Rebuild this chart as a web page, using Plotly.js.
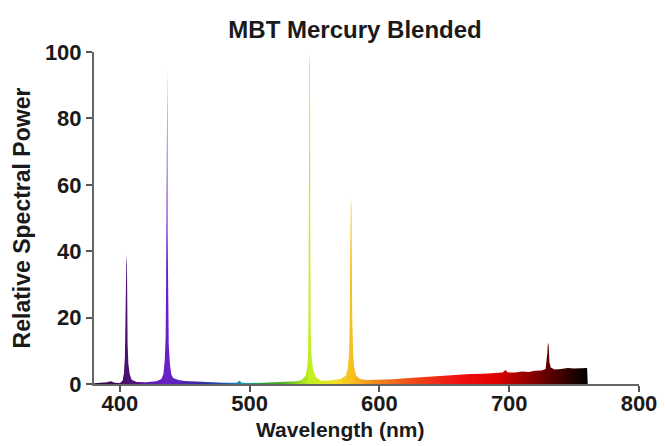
<!DOCTYPE html>
<html>
<head>
<meta charset="utf-8">
<script src="https://cdn.plot.ly/plotly-3.0.1.min.js"></script>
<style>html,body{margin:0;padding:0;background:#fff;}#chart{width:665px;height:446px;}</style>
</head>
<body>
<div id="chart"></div>
<script>
// Wavelength samples (nm)
const wavelength = [
  380, 385, 390, 393, 396, 400, 402, 403, 403.8, 404.2, 404.4, 404.6, 405, 405.4, 405.6, 405.9, 406.5, 407.5, 409, 413, 420,
  428, 432, 433.5, 434.5, 435.2, 435.5, 435.7, 436.1, 436.5, 436.7, 437, 437.6, 438.5, 439.5, 441, 445, 450, 460, 470, 480, 490, 492,
  494, 500, 510, 520, 530, 536, 540, 543, 544.3, 545, 545.3, 545.5, 546, 546.5, 546.7, 547, 547.7, 549, 551, 555, 560, 565,
  570, 574, 575.5, 576.5, 577.2, 577.4, 577.6, 578, 578.4, 578.6, 579, 579.7, 580.5, 582, 585, 590, 600, 610, 620, 630, 640, 650, 660,
  670, 680, 690, 695, 697, 699, 705, 710, 715, 720, 725, 728, 729.4, 729.8, 730.4, 731, 732, 735, 740, 745, 750,
  755, 760, 760.5
];
// Relative spectral power (%)
const power = [
  0.2, 0.3, 0.5, 0.8, 0.4, 0.3, 1.0, 3, 8, 18, 24, 36, 39, 36, 19, 12, 6, 3, 1.3, 0.6, 0.5,
  0.8, 1.5, 3, 7, 14, 27, 47, 93, 95, 47, 27, 12, 6, 3, 1.8, 1.2, 0.9, 0.7, 0.5, 0.4, 0.4, 1.0,
  0.4, 0.3, 0.4, 0.5, 0.6, 0.8, 1.2, 2.5, 5, 9, 22, 42, 100, 96, 40, 16, 8, 4, 2, 1.0, 1.0, 1.2,
  1.5, 2.5, 4.5, 9, 22, 37, 53, 56, 53, 37, 20, 9, 5, 2.5, 1.5, 1.2, 1.2, 1.4, 1.7, 2.0, 2.3, 2.6, 2.8,
  3.0, 3.1, 3.4, 3.5, 4.2, 3.5, 3.5, 3.8, 3.6, 4.0, 4.1, 4.5, 9.5, 12.5, 11.5, 6.5, 5, 4.4, 4.5, 4.8, 4.7,
  4.8, 4.8, 0
];
// Spectral colour stops (wavelength nm, colour)
const colorWavelengths = [380, 405, 420, 436, 460, 480, 495, 510, 525, 546, 565, 578, 600, 630, 660, 690, 720, 745, 760];
const colorValues = ['#2a0a3a', '#4a1070', '#5a18a8', '#6a20c8', '#3a2aa0', '#2050b0', '#1a9ab0', '#20a040', '#50b020',
  '#c0f020', '#f0e020', '#f8c020', '#f08020', '#f04018', '#f01010', '#e00000', '#800000', '#300000', '#000000'];

const xTicks = [400, 500, 600, 700, 800];
const yTicks = [0, 20, 40, 60, 80, 100];

const wMin = colorWavelengths[0], wMax = colorWavelengths[colorWavelengths.length - 1];
const colorscale = colorWavelengths.map((w, i) => [(w - wMin) / (wMax - wMin), colorValues[i]]);

const trace = {
  x: wavelength,
  y: power,
  type: 'scatter',
  mode: 'lines',
  line: {width: 0, color: 'rgba(0,0,0,0)'},
  fill: 'tozeroy',
  fillgradient: {type: 'horizontal', colorscale: colorscale, start: wMin, stop: wMax},
  hoverinfo: 'x+y'
};

const font = 'Liberation Sans, Arial, sans-serif';
const layout = {
  width: 665, height: 446,
  margin: {l: 94, r: 26, t: 52, b: 62},
  paper_bgcolor: '#fff', plot_bgcolor: '#fff',
  showlegend: false,
  title: {
    text: '<b>MBT Mercury Blended</b>',
    font: {family: font, size: 24, color: '#1a1a1a'},
    x: 0.479, xref: 'paper', xanchor: 'center',
    y: 0.933, yref: 'container', yanchor: 'middle'
  },
  xaxis: {
    range: [380, 800],
    tickvals: xTicks, ticktext: xTicks.map(v => '<b>' + v + '</b>'),
    ticks: 'outside', ticklen: 6, tickwidth: 2, tickcolor: '#555',
    ticklabelstandoff: -7,
    showline: true, linecolor: '#666', linewidth: 2,
    showgrid: false, zeroline: false,
    tickfont: {family: font, size: 22, color: '#1a1a1a'}
  },
  yaxis: {
    range: [0, 100],
    tickvals: yTicks, ticktext: yTicks.map(v => '<b>' + v + '</b>'),
    ticks: 'outside', ticklen: 6, tickwidth: 2, tickcolor: '#555',
    showline: true, linecolor: '#666', linewidth: 2,
    showgrid: false, zeroline: false,
    tickfont: {family: font, size: 22, color: '#1a1a1a'},
    title: {text: '<b>Relative Spectral Power</b>', font: {family: font, size: 23, color: '#1a1a1a'}, standoff: 8}
  },
  annotations: [{
    text: '<b>Wavelength (nm)</b>',
    xref: 'paper', yref: 'paper',
    x: (340 - 94) / 545, y: 0, xanchor: 'center', yanchor: 'middle',
    yshift: -45, showarrow: false,
    font: {family: font, size: 21, color: '#1a1a1a'}
  }]
};

Plotly.newPlot('chart', [trace], layout, {displayModeBar: false, staticPlot: true});
</script>
</body>
</html>
